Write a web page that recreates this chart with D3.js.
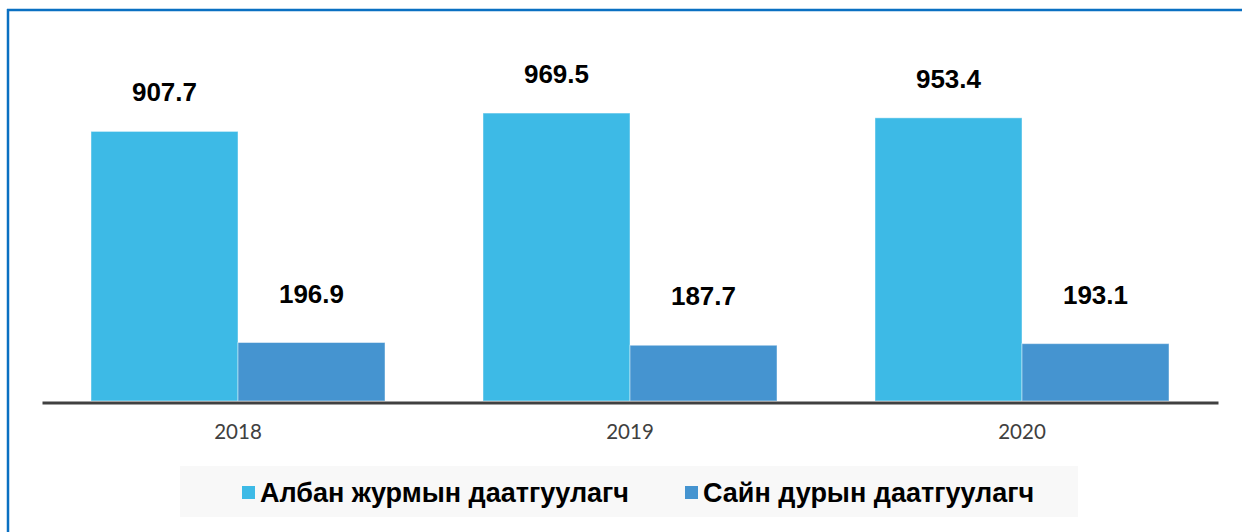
<!DOCTYPE html>
<html>
<head>
<meta charset="utf-8">
<script src="https://cdn.jsdelivr.net/npm/d3@7"></script>
<style>
  html, body { margin: 0; padding: 0; background: #ffffff; }
  svg { display: block; }
</style>
</head>
<body>
<svg id="chart" width="1242" height="532"></svg>
<script>
// ---- data ----
const categories = ["2018", "2019", "2020"];
const seriesNames = ["Албан журмын даатгуулагч", "Сайн дурын даатгуулагч"];
const mandatoryValues = [907.7, 969.5, 953.4];
const voluntaryValues = [196.9, 187.7, 193.1];
const seriesValues = [mandatoryValues, voluntaryValues];

// ---- style ----
const colors = ["#3DBAE6", "#4594D0"];
const labelLift = [30, 40];

const svg = d3.select("#chart");

// frame lines (top and left)
svg.append("line").attr("x1", 7).attr("x2", 1242).attr("y1", 10).attr("y2", 10)
  .attr("stroke", "#0A70C2").attr("stroke-width", 2.5);
svg.append("line").attr("x1", 8).attr("x2", 8).attr("y1", 9).attr("y2", 532)
  .attr("stroke", "#0A70C2").attr("stroke-width", 2.5);

const x = d3.scaleBand().domain(categories).range([42, 1218])
  .paddingInner(0.25).paddingOuter(0.125);
const xs = d3.scaleBand().domain(d3.range(seriesNames.length)).range([0, x.bandwidth()]);
const y = d3.scaleLinear().domain([0, 1000]).range([401, 104]);

const rows = [];
categories.forEach((c, i) => {
  seriesValues.forEach((vals, s) => rows.push({ cat: c, s: s, v: vals[i] }));
});

svg.append("g").selectAll("rect").data(rows).join("rect")
  .attr("x", d => x(d.cat) + xs(d.s))
  .attr("y", d => y(d.v))
  .attr("width", xs.bandwidth())
  .attr("height", d => y(0) - y(d.v))
  .attr("fill", d => colors[d.s])
  .attr("stroke", "#ffffff").attr("stroke-opacity", 0.45).attr("stroke-width", 1);

svg.append("g").selectAll("text").data(rows).join("text")
  .attr("x", d => x(d.cat) + xs(d.s) + xs.bandwidth() / 2)
  .attr("y", d => y(d.v) - labelLift[d.s])
  .attr("text-anchor", "middle")
  .attr("font-family", "'Liberation Sans', Arial, sans-serif")
  .attr("font-weight", "bold")
  .attr("font-size", 26)
  .attr("fill", "#000")
  .text(d => d.v.toFixed(1));

// x axis
const xAxis = svg.append("g").attr("transform", "translate(0,402.5)")
  .call(d3.axisBottom(x).tickSize(0).tickPadding(22));
xAxis.select(".domain").attr("stroke", "#404040").attr("stroke-width", 3);
xAxis.selectAll(".tick text")
  .attr("font-family", "Lato, 'Open Sans', sans-serif")
  .attr("font-size", 20.5)
  .attr("fill", "#404040");

// legend
const lg = svg.append("g");
lg.append("rect").attr("x", 180).attr("y", 466).attr("width", 898).attr("height", 51)
  .attr("fill", "#F8F8F8");
const legendX = [242, 685];
seriesNames.forEach((name, i) => {
  lg.append("rect").attr("x", legendX[i]).attr("y", 486).attr("width", 13).attr("height", 13)
    .attr("fill", colors[i]);
  lg.append("text").attr("x", legendX[i] + 18).attr("y", 502)
    .attr("font-family", "'Liberation Sans', Arial, sans-serif")
    .attr("font-weight", "bold").attr("font-size", 27).attr("fill", "#000")
    .text(name);
});
</script>
</body>
</html>
